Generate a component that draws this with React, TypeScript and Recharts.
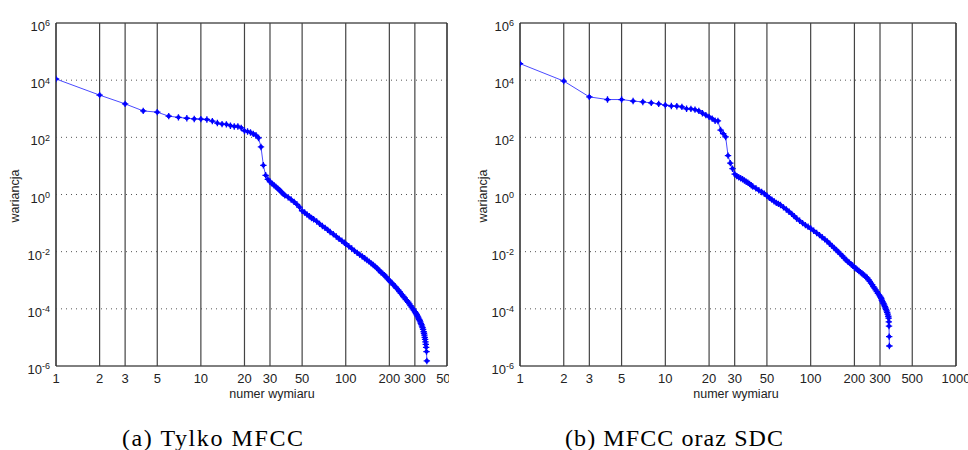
import React from "react";
import { LineChart, Line, XAxis, YAxis, ReferenceLine, ReferenceArea } from "recharts";

// (a) Tylko MFCC – numer wymiaru / wariancja
const dimsA = [
  1, 2, 3, 4, 5, 6, 7, 8, 9, 10, 11, 12, 13, 14, 15, 16, 17, 18, 19, 20,
  21, 22, 23, 24, 25, 26, 27, 28, 29, 30, 31, 32, 33, 34, 35, 36, 37, 38,
  40, 42, 44, 46, 48, 50, 52, 54, 56, 58, 60, 63, 66, 69, 72, 75, 78, 82,
  86, 90, 94, 98, 100, 105, 110, 115, 120, 125, 130, 135, 140, 145, 150,
  155, 160, 165, 170, 175, 180, 185, 190, 195, 200, 205, 210, 215, 220,
  225, 230, 235, 240, 245, 250, 255, 260, 265, 270, 275, 280, 285, 290,
  295, 300, 303, 306, 309, 312, 315, 318, 321, 324, 327, 330, 333, 336,
  339, 342, 345, 347, 349, 351, 353, 355, 357, 359, 361, 363,
];
const varA = [
  11000, 3000, 1480, 840, 760, 550, 500, 465, 440, 435, 420, 370, 316, 290,
  285, 255, 240, 240, 215, 170, 160, 148, 132, 118, 95, 46, 10.5, 4.7, 3.4,
  2.8, 2.4, 2.1, 1.85, 1.6, 1.4, 1.22, 1.05, 0.93,
  0.8, 0.66, 0.55, 0.45, 0.36, 0.27, 0.234, 0.2, 0.174, 0.151, 0.137, 0.115,
  0.094, 0.079, 0.068, 0.058, 0.049, 0.041, 0.034, 0.028, 0.024, 0.0204,
  0.0186, 0.0155, 0.0129, 0.0107, 0.0091, 0.0078, 0.0068, 0.0059, 0.0051,
  0.0045, 0.0039, 0.0034, 0.003, 0.0026, 0.0022, 0.0019, 0.0017, 0.0015,
  0.0013, 0.00112, 0.00098, 0.00085, 0.00076, 0.00067, 0.00059, 0.00052,
  0.00046, 0.0004, 0.00035, 0.00031, 0.00027, 0.00024, 0.00021, 0.00019,
  0.00017, 0.00015, 0.00013, 0.000115, 0.0001, 0.00009, 0.00008, 0.000074,
  0.000068, 0.000062, 0.000057, 0.000052, 0.000047, 0.000043, 0.000039,
  0.000035, 0.000031, 0.000028, 0.000025, 0.000022, 0.000019, 0.000016,
  0.000014, 0.000012, 0.00001, 0.0000085, 0.000007, 0.0000057, 0.0000045,
  0.0000032, 0.0000015,
];

// (b) MFCC oraz SDC
const dimsB = [
  1, 2, 3, 4, 5, 6, 7, 8, 9, 10, 11, 12, 13, 14, 15, 16, 17, 18, 19, 20,
  21, 22, 23, 24, 25, 26, 27, 28, 29, 30, 31, 32, 33, 34, 35, 36, 37, 38,
  39, 40, 42, 44, 46, 48, 50, 52, 54, 56, 58, 60, 62, 65, 68, 71, 74, 77,
  80, 84, 88, 92, 96, 100, 105, 110, 115, 120, 125, 130, 135, 140, 145,
  150, 155, 160, 165, 170, 175, 180, 185, 190, 195, 200, 205, 210, 215,
  220, 225, 230, 235, 240, 245, 250, 255, 260, 265, 270, 275, 280, 285,
  290, 295, 300, 303, 306, 309, 312, 315, 318, 321, 324, 327, 330, 333,
  336, 339, 342, 344, 345, 346, 347, 348,
];
const varB = [
  38000, 9300, 2600, 2100, 2100, 1860, 1730, 1600, 1480, 1330, 1250, 1230,
  1160, 1000, 990, 930, 840, 700, 600, 520, 450, 380, 375, 180, 135, 103,
  23, 12.5, 8, 5.2, 4.4, 4.0, 3.7, 3.4, 3.1, 2.8, 2.6, 2.35, 2.1, 1.9,
  1.65, 1.4, 1.23, 1.07, 0.9, 0.76, 0.66, 0.58, 0.51, 0.47, 0.43, 0.355,
  0.3, 0.25, 0.21, 0.175, 0.145, 0.12, 0.1, 0.085, 0.074, 0.065, 0.054,
  0.045, 0.038, 0.032, 0.027, 0.023, 0.019, 0.016, 0.0135, 0.0115, 0.0098,
  0.0083, 0.0071, 0.006, 0.0052, 0.0045, 0.0041, 0.0036, 0.0032, 0.0028,
  0.0026, 0.0023, 0.0021, 0.0019, 0.00175, 0.0016, 0.00145, 0.0013,
  0.00122, 0.00105, 0.00092, 0.00079, 0.0007, 0.0006, 0.00053, 0.00046,
  0.0004, 0.00035, 0.00031, 0.00028, 0.00025, 0.00023, 0.0002, 0.00018,
  0.00016, 0.000148, 0.000135, 0.00012, 0.000107, 0.000095, 0.000085,
  0.000075, 0.000065, 0.000055, 0.000047, 0.000035, 0.000025, 0.0000107,
  0.000005,
];

const xTicksA = [1, 2, 3, 5, 10, 20, 30, 50, 100, 200, 300, 500];
const xTicksB = [1, 2, 3, 5, 10, 20, 30, 50, 100, 200, 300, 500, 1000];
const yTicks = [1e-6, 1e-4, 1e-2, 1, 1e2, 1e4, 1e6];
const dottedY = [1e-4, 1e-2, 1, 1e2, 1e4];

const rowsA = dimsA.map((d, i) => ({ dim: d, v: varA[i] }));
const rowsB = dimsB.map((d, i) => ({ dim: d, v: varB[i] }));

const BLUE = "#0000ff";
const SANS = "'Liberation Sans', Arial, sans-serif";
const SERIF = "'Liberation Serif', 'Times New Roman', serif";

const XTick = (props: any) => {
  const { x, y, payload } = props;
  return (
    <text x={x} y={y + 16.5} textAnchor="middle" fontSize={13} fontFamily={SANS} fill="#222">
      {payload.value}
    </text>
  );
};

const YTick = (props: any) => {
  const { x, y, payload } = props;
  const e = Math.round(Math.log10(payload.value));
  return (
    <text x={x - 6} y={y + 8} textAnchor="end" fontFamily={SANS} fill="#222">
      <tspan fontSize={13}>10</tspan>
      <tspan fontSize={9} dy={-4.6}>{e}</tspan>
    </text>
  );
};

const Star = (props: any) => {
  const { cx, cy, index } = props;
  if (cx == null || cy == null) return <g key={index} />;
  return (
    <g key={index}>
      <circle cx={cx} cy={cy} r={2.1} fill={BLUE} />
      <path d={`M${cx - 3.2},${cy}H${cx + 3.2}M${cx},${cy - 3.2}V${cy + 3.2}`} stroke={BLUE} strokeWidth={1.3} />
    </g>
  );
};

function Panel({ rows, xTicks, xMax, width, margin, yWidth }: any) {
  return (
    <LineChart width={width} height={400} data={rows} margin={margin}>
      <XAxis
        dataKey="dim"
        type="number"
        scale="log"
        domain={[1, xMax]}
        ticks={xTicks}
        interval={0}
        allowDataOverflow
        tick={<XTick />}
        tickLine={false}
        axisLine={false}
        tickSize={0}
        tickMargin={0}
        height={30}
      />
      <YAxis
        type="number"
        scale="log"
        domain={[1e-6, 1e6]}
        ticks={yTicks}
        interval={0}
        allowDataOverflow
        tick={<YTick />}
        tickLine={false}
        axisLine={false}
        tickSize={0}
        tickMargin={0}
        width={yWidth}
      />
      {dottedY.map((v) => (
        <ReferenceLine key={"h" + v} y={v} stroke="#555" strokeDasharray="1 4" />
      ))}
      {xTicks.map((v: number) => (
        <ReferenceLine key={"v" + v} x={v} stroke="#444" strokeWidth={1.2} />
      ))}
      <ReferenceArea x1={1} x2={xMax} y1={1e-6} y2={1e6} fill="none" stroke="#000" strokeWidth={1} />
      <Line
        dataKey="v"
        type="linear"
        stroke="#4a4aff"
        strokeWidth={1}
        dot={(p: any) => <Star {...p} key={p.index} />}
        activeDot={false}
        isAnimationActive={false}
      />
    </LineChart>
  );
}

export default function App() {
  return (
    <div style={{ position: "absolute", left: 0, top: 0, width: 968, height: 450, background: "#fff" }}>
      <div style={{ position: "absolute", left: 0, top: 0 }}>
        <Panel rows={rowsA} xTicks={xTicksA} xMax={500} width={449} yWidth={50}
          margin={{ top: 23, right: 2, left: 6, bottom: 4 }} />
      </div>
      <div style={{ position: "absolute", left: 480, top: 0 }}>
        <Panel rows={rowsB} xTicks={xTicksB} xMax={1000} width={488} yWidth={40}
          margin={{ top: 23, right: 12, left: 0, bottom: 4 }} />
      </div>
      <svg width={968} height={450} style={{ position: "absolute", left: 0, top: 0, pointerEvents: "none" }}>
        <text transform="translate(19,196) rotate(-90)" textAnchor="middle" fontSize={12.5} fontFamily={SANS} fill="#222">
          wariancja
        </text>
        <text transform="translate(487,196) rotate(-90)" textAnchor="middle" fontSize={12.5} fontFamily={SANS} fill="#222">
          wariancja
        </text>
        <text x={272} y={397.5} textAnchor="middle" fontSize={12.5} fontFamily={SANS} fill="#222">
          numer wymiaru
        </text>
        <text x={736} y={397.5} textAnchor="middle" fontSize={12.5} fontFamily={SANS} fill="#222">
          numer wymiaru
        </text>
        <text x={212.5} y={446} textAnchor="middle" fontSize={24} fontFamily={SERIF} fill="#000"
          textLength={181} lengthAdjust="spacing">
          (a) Tylko MFCC
        </text>
        <text x={674} y={446} textAnchor="middle" fontSize={24} fontFamily={SERIF} fill="#000"
          textLength={218} lengthAdjust="spacing">
          (b) MFCC oraz SDC
        </text>
      </svg>
    </div>
  );
}
